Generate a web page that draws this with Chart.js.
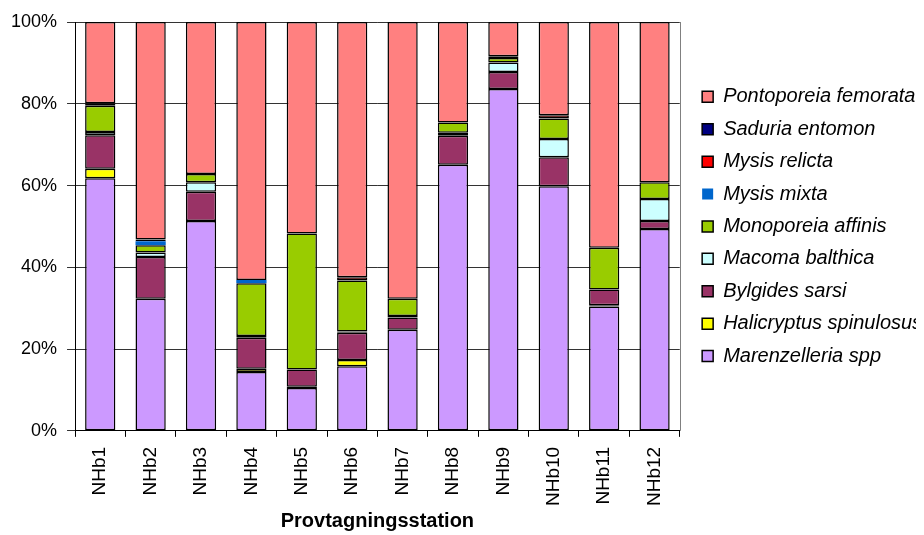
<!DOCTYPE html>
<html lang="sv">
<head>
  <meta charset="UTF-8">
  <title>Provtagningsstation</title>
  <script src="https://cdn.jsdelivr.net/npm/chart.js"></script>
  <style>
    body { margin: 0; background: #fff; }
    #wrap { width: 924px; height: 535px; }
  </style>
</head>
<body>
  <div id="wrap"><canvas id="myChart"></canvas></div>
  <script>
    const stations = ['NHb1', 'NHb2', 'NHb3', 'NHb4', 'NHb5', 'NHb6', 'NHb7', 'NHb8', 'NHb9', 'NHb10', 'NHb11', 'NHb12'];

    // percent of individuals per station, bottom to top in each bar (null = not found)
    const marenzelleria = [61.8, 32.3, 51.3, 14.4, 10.5, 15.8, 24.7, 65.1, 83.6, 59.8, 30.4, 49.4];
    const halicryptus   = [2.3, null, null, 0.8, 0.3, 1.5, null, null, null, null, 0.3, null];
    const bylgides      = [8.2, 10.2, 7.2, 7.6, 4.2, 6.7, 3.0, 7.1, 4.2, 7.1, 3.9, 1.9];
    const macoma        = [0.8, 1.1, 2.3, 0.4, null, 0.3, 0.4, 0.7, 2.3, 4.5, null, 5.4];
    const monoporeia    = [6.4, 1.8, 2.0, 12.9, 33.3, 12.5, 4.2, 2.5, 1.1, 5.0, 10.2, 4.1];
    const mysisMixta    = [null, 1.0, null, 0.8, null, null, null, null, null, null, null, null];
    const mysisRelicta  = [null, null, null, null, null, 0.8, null, null, null, 0.8, null, null];
    const saduria       = [0.6, 0.4, null, null, null, null, null, null, 0.4, null, null, null];
    const pontoporeia   = [19.9, 53.2, 37.2, 63.1, 51.7, 62.4, 67.7, 24.6, 8.4, 22.8, 55.2, 39.2];

    const yTicks = [0, 20, 40, 60, 80, 100];

    const series = [
      ['Marenzelleria spp', marenzelleria, '#CC99FF', 1.5],
      ['Halicryptus spinulosus', halicryptus, '#FFFF00', 1.5],
      ['Bylgides sarsi', bylgides, '#993366', 1.5],
      ['Macoma balthica', macoma, '#CCFFFF', 1.5],
      ['Monoporeia affinis', monoporeia, '#99CC00', 1.5],
      ['Mysis mixta', mysisMixta, '#0066CC', 0],
      ['Mysis relicta', mysisRelicta, '#FF0000', 1.5],
      ['Saduria entomon', saduria, '#000080', 1.5],
      ['Pontoporeia femorata', pontoporeia, '#FF8080', 1.5]
    ];

    const family = "'Liberation Sans', Arial, sans-serif";

    // right-hand frame line of the plot area; legend centred on the plot area, a bit away from it
    const frame = {
      id: 'frame',
      afterLayout(chart) {
        const lg = chart.legend;
        const area = chart.chartArea;
        if (!lg) return;
        const h = lg.bottom - lg.top;
        const mid = (area.top + area.bottom) / 2;
        lg.top = mid - h / 2;
        lg.bottom = mid + h / 2;
        lg.left += 10;
        lg.right += 10;
      },
      afterDraw(chart) {
        const { ctx, chartArea } = chart;
        ctx.save();
        ctx.strokeStyle = '#808080';
        ctx.lineWidth = 1;
        ctx.beginPath();
        ctx.moveTo(Math.round(chartArea.right) + 0.5, chartArea.top);
        ctx.lineTo(Math.round(chartArea.right) + 0.5, chartArea.bottom);
        ctx.stroke();
        ctx.restore();
      }
    };

    new Chart(document.getElementById('myChart'), {
      type: 'bar',
      data: {
        labels: stations,
        datasets: series.map(([label, data, color, bw]) => ({
          label,
          data,
          backgroundColor: color,
          borderColor: '#000',
          borderWidth: bw,
          borderSkipped: false,
          categoryPercentage: 1,
          barPercentage: 0.6
        }))
      },
      options: {
        responsive: true,
        maintainAspectRatio: false,
        animation: false,
        layout: { padding: { top: 22, left: 1, right: 18, bottom: 2 } },
        plugins: {
          tooltip: { enabled: false },
          legend: {
            position: 'right',
            reverse: true,
            labels: {
              font: { family, size: 20, style: 'italic' },
              color: '#000',
              boxWidth: 11,
              boxHeight: 11,
              padding: 12.4
            }
          }
        },
        scales: {
          x: {
            stacked: true,
            grid: { drawOnChartArea: false, color: '#000', tickLength: 6 },
            border: { color: '#000' },
            ticks: { font: { family, size: 19 }, color: '#000', minRotation: 90, maxRotation: 90, padding: 10 },
            title: { display: true, text: 'Provtagningsstation', font: { family, size: 20, weight: 'bold' }, color: '#000', padding: { top: -7, bottom: 0 } }
          },
          y: {
            stacked: true,
            min: 0,
            max: 100,
            afterBuildTicks: (axis) => { axis.ticks = yTicks.map(v => ({ value: v })); },
            grid: { color: '#333', tickLength: 8 },
            border: { color: '#000' },
            ticks: { font: { family, size: 18 }, color: '#000', padding: 10, callback: v => v + '%' }
          }
        }
      },
      plugins: [frame]
    });
  </script>
</body>
</html>
